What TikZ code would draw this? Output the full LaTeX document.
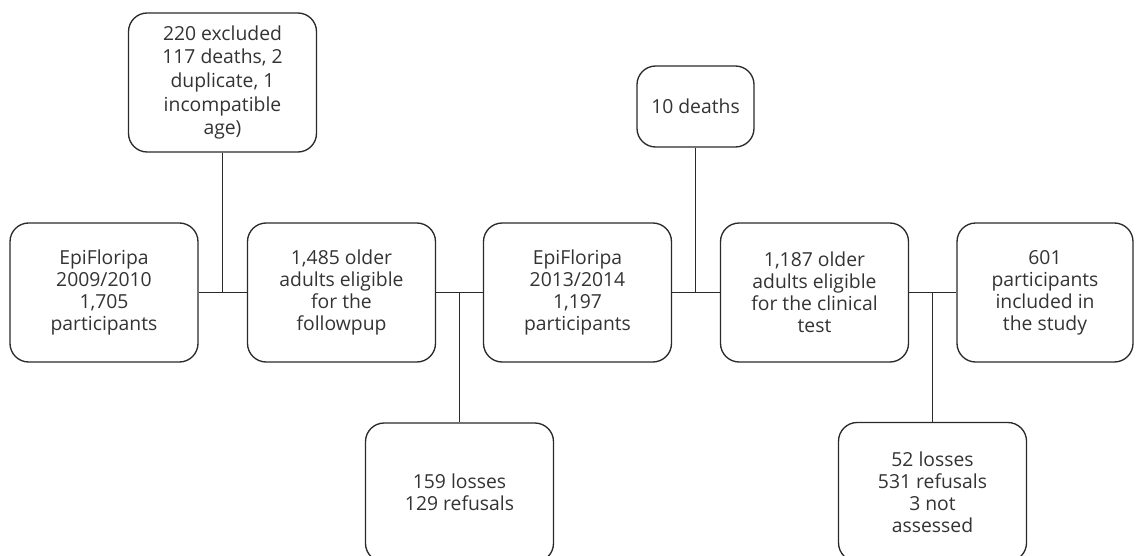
\documentclass[tikz,border=0pt]{standalone}
\usepackage{fontspec}
\setmainfont{Open Sans}
\definecolor{linec}{HTML}{2A2A2A}
\definecolor{textc}{HTML}{333333}
\begin{document}
\begin{tikzpicture}[x=0.75pt,y=-0.75pt,
  box/.style={draw=linec, line width=1pt, rounded corners=14pt, align=center,
    text=textc, font=\fontsize{14.5}{16.5}\selectfont, inner sep=0pt,
    minimum width=141pt, minimum height=104.25pt},
  conn/.style={draw=linec, line width=1pt}]
\clip (0,0) rectangle (1137,556);
\useasboundingbox (0,0) rectangle (1137,556);
\node[box] (b1) at (104,292.5) {EpiFloripa\\2009/2010\\1,705\\participants};
\node[box] (b2) at (341.5,292.5) {1,485 older\\adults eligible\\for the\\followpup};
\node[box] (b3) at (577.5,292.5) {EpiFloripa\\2013/2014\\1,197\\participants};
\node[box] (b4) at (814.5,292.5) {1,187 older\\adults eligible\\for the clinical\\test};
\node[box, minimum width=132pt] (b5) at (1045,292.5) {601\\participants\\included in\\the study};
\node[box, font=\fontsize{14.5}{17.8}\selectfont] (t1) at (222.5,82.5) {220 excluded\\117 deaths, 2\\duplicate, 1\\incompatible\\age)};
\node[box, minimum width=87.75pt, minimum height=60.75pt] (t2) at (695.5,106.5) {10 deaths};
\node[box] (d1) at (459.5,492.5) {159 losses\\129 refusals};
\node[box] (d2) at (932.5,492) {52 losses\\531 refusals\\3 not\\assessed};
\draw[conn] (b1.east) -- (b2.west);
\draw[conn] (b2.east) -- (b3.west);
\draw[conn] (b3.east) -- (b4.west);
\draw[conn] (b4.east) -- (b5.west);
\draw[conn] (t1.south) -- (t1.south |- b1.east);
\draw[conn] (t2.south) -- (t2.south |- b3.east);
\draw[conn] (d1.north) -- (d1.north |- b2.east);
\draw[conn] (d2.north) -- (d2.north |- b4.east);
\end{tikzpicture}
\end{document}
